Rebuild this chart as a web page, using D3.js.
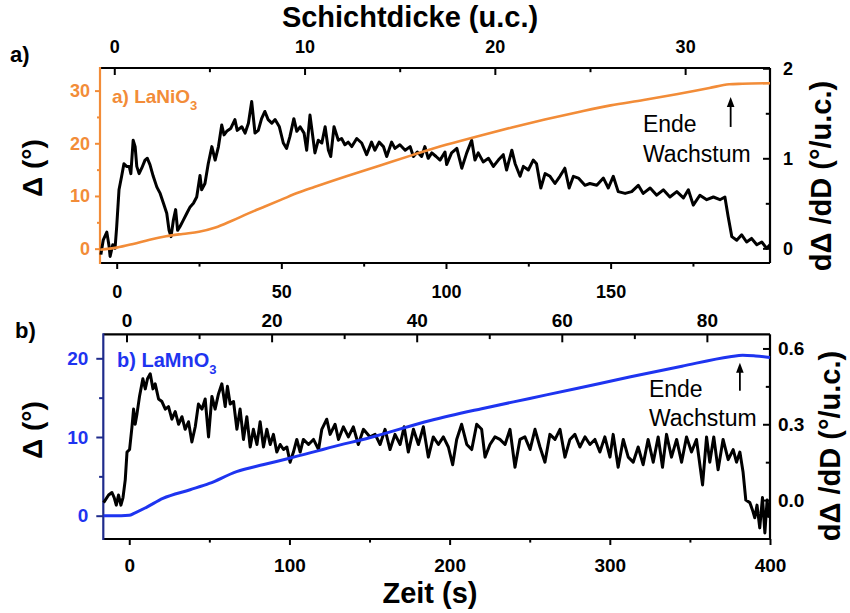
<!DOCTYPE html>
<html>
<head>
<meta charset="utf-8">
<script src="https://cdn.jsdelivr.net/npm/d3@7"></script>
<style>
body { margin: 0; background: #fff; }
</style>
</head>
<body>
<svg width="850" height="613"></svg>
<script>
// a) LaNiO3 : Delta (left axis) and d(Delta)/dD (right axis) over time
var lnoTime  = [-5, 0, 5, 10, 15, 20, 25, 30, 35, 40, 45, 50, 55, 60, 70, 80, 90, 100, 110, 120, 130, 140, 150, 160, 170, 180, 186, 190, 198.4];
var lnoDelta = [-0.2, 0.2, 0.9, 1.7, 2.35, 2.8, 3.2, 4.0, 5.3, 6.7, 8.0, 9.3, 10.6, 11.7, 13.8, 15.8, 17.8, 19.7, 21.4, 23.0, 24.5, 25.9, 27.2, 28.2, 29.3, 30.5, 31.2, 31.3, 31.4];

var lnoRateTime = [-4.8, -4.1, -3.0, -2.3, -2.0, -1.2, -0.5, 0, 0.7, 1.5, 2.2, 3.0, 3.8, 4.3, 5.0, 5.6, 6.1, 6.8, 7.6, 8.6, 9.3, 10.1, 11.1, 12.2, 13.2, 14.2, 15.2, 15.9, 16.5, 17.2, 17.9, 18.5, 19.2, 20.2, 21.3, 22.3, 23.3, 24.3, 25.3, 25.8, 26.8, 27.8, 28.9, 29.9, 30.9, 31.9, 32.6, 33.4, 34.6, 35.9, 36.6, 38.0, 39.0, 40.0, 41.0, 42.0, 43.0, 44.0, 45.0, 46.0, 47.1, 48.1, 49.4, 50.6, 51.6, 52.6, 53.8, 54.7, 55.7, 56.9, 57.7, 58.7, 59.7, 60.2, 61.2, 62.3, 63.3, 64.3, 65.0, 66.0, 67.3, 68.3, 69.3, 70.3, 71.4, 72.9, 74.4, 75.9, 77.4, 78.4, 79.7, 81.0, 82.0, 83.5, 84.5, 86.0, 87.6, 89.1, 90.1, 91.3, 92.6, 93.6, 94.6, 95.7, 97.0, 98.2, 99.7, 100.2, 101.7, 103.3, 104.8, 106.3, 107.8, 108.8, 109.8, 111.3, 112.9, 114.4, 115.9, 117.4, 118.4, 120.0, 121.0, 122.5, 123.5, 125.0, 126.5, 127.5, 128.8, 130.1, 131.6, 133.1, 134.6, 136.1, 137.4, 138.7, 140.2, 142.2, 143.7, 145.8, 147.8, 149.3, 150.8, 152.3, 154.4, 156.4, 158.4, 159.9, 162.0, 164.0, 166.0, 168.0, 170.1, 172.1, 173.6, 175.1, 177.1, 179.2, 181.2, 183.2, 184.7, 185.7, 186.8, 188.3, 189.8, 191.3, 192.8, 194.4, 195.9, 197.4, 198.4];
var lnoRate = [-0.07, 0.09, 0.18, 0.02, -0.09, 0.04, 0.00, 0.24, 0.65, 0.80, 0.94, 0.91, 0.91, 0.83, 1.20, 1.13, 0.91, 0.83, 0.89, 0.98, 1.00, 0.93, 0.80, 0.68, 0.61, 0.50, 0.39, 0.20, 0.13, 0.31, 0.43, 0.20, 0.24, 0.31, 0.39, 0.46, 0.50, 0.57, 0.81, 0.65, 0.72, 0.94, 1.13, 0.98, 1.13, 1.37, 1.26, 1.30, 1.33, 1.43, 1.31, 1.35, 1.28, 1.39, 1.63, 1.28, 1.31, 1.44, 1.52, 1.43, 1.39, 1.43, 1.35, 1.17, 1.11, 1.24, 1.44, 1.30, 1.35, 1.28, 1.09, 1.48, 1.20, 1.06, 1.20, 1.17, 1.35, 1.09, 1.02, 1.35, 1.20, 1.22, 1.15, 1.18, 1.13, 1.22, 1.17, 1.04, 1.18, 1.09, 1.18, 1.13, 1.02, 1.18, 1.11, 1.15, 1.09, 1.13, 1.02, 1.07, 1.02, 1.13, 1.00, 1.06, 1.02, 0.98, 1.07, 0.93, 1.06, 1.11, 0.89, 1.06, 1.20, 0.98, 1.06, 0.96, 1.00, 0.91, 0.98, 1.04, 0.87, 1.09, 0.94, 0.80, 0.91, 0.87, 0.98, 0.94, 0.67, 0.83, 0.80, 0.72, 0.80, 0.89, 0.67, 0.80, 0.78, 0.70, 0.72, 0.70, 0.78, 0.67, 0.80, 0.63, 0.61, 0.63, 0.70, 0.61, 0.67, 0.59, 0.65, 0.57, 0.63, 0.56, 0.65, 0.48, 0.59, 0.54, 0.57, 0.54, 0.57, 0.35, 0.13, 0.09, 0.15, 0.07, 0.11, 0.04, 0.07, 0.00, 0.04];

// b) LaMnO3
var lmoTime  = [-16, -5, 0, 3, 11, 21, 38, 50, 67, 84, 100, 117, 125, 150, 188, 220, 250, 280, 313, 345, 375, 383, 391, 400];
var lmoDelta = [0, 0, 0.05, 0.3, 1.1, 2.2, 3.3, 4.1, 5.6, 6.5, 7.3, 8.2, 8.65, 9.9, 12.1, 13.6, 14.9, 16.2, 17.65, 19.0, 20.2, 20.4, 20.3, 20.1];

var lmoRateTime = [-16.0, -12.9, -10.8, -9.4, -8.1, -6.7, -5.2, -3.9, -2.5, -1.4, 0.2, 1.7, 2.7, 3.7, 4.8, 6.4, 8.5, 10.0, 11.4, 13.1, 14.8, 16.2, 18.3, 20.4, 22.5, 24.5, 26.6, 28.7, 30.8, 32.9, 34.9, 37.0, 39.1, 41.2, 43.2, 45.4, 47.4, 49.5, 51.6, 53.6, 55.7, 57.8, 59.9, 61.3, 63.0, 65.1, 67.2, 69.2, 71.3, 73.4, 75.5, 77.5, 79.7, 81.7, 83.8, 85.9, 88.0, 90.0, 92.1, 94.2, 96.3, 98.4, 100.4, 102.5, 104.6, 106.7, 108.7, 111.9, 115.0, 118.2, 120.2, 123.3, 125.4, 128.5, 130.6, 133.7, 136.8, 139.9, 143.0, 146.2, 150.3, 153.5, 156.6, 159.7, 162.8, 165.9, 169.1, 171.6, 174.2, 177.4, 180.5, 183.6, 186.7, 189.8, 193.0, 196.1, 199.2, 201.9, 204.4, 207.5, 210.7, 213.8, 216.9, 220.0, 222.1, 225.2, 228.3, 231.4, 234.6, 237.7, 240.8, 243.9, 247.0, 250.2, 253.3, 256.4, 259.5, 262.6, 265.8, 268.9, 272.0, 275.1, 278.2, 281.3, 284.5, 287.6, 290.7, 293.8, 296.9, 300.1, 302.1, 305.2, 308.4, 311.5, 314.6, 317.7, 320.8, 323.9, 327.1, 330.2, 332.9, 335.4, 338.5, 341.7, 344.8, 347.9, 351.0, 354.1, 357.9, 360.4, 362.4, 364.9, 367.6, 370.7, 373.9, 377.0, 379.1, 381.2, 383.2, 384.9, 387.4, 389.1, 390.5, 391.9, 393.6, 395.3, 396.8, 398.2, 399.5];
var lmoRate = [-0.01, 0.02, 0.03, 0.01, -0.02, 0.02, -0.02, 0.01, 0.08, 0.19, 0.20, 0.29, 0.36, 0.30, 0.34, 0.41, 0.48, 0.44, 0.48, 0.50, 0.44, 0.46, 0.40, 0.39, 0.36, 0.37, 0.32, 0.35, 0.30, 0.33, 0.28, 0.31, 0.23, 0.29, 0.38, 0.36, 0.40, 0.25, 0.41, 0.36, 0.42, 0.46, 0.37, 0.45, 0.38, 0.39, 0.28, 0.36, 0.24, 0.33, 0.21, 0.28, 0.22, 0.31, 0.21, 0.28, 0.22, 0.26, 0.19, 0.22, 0.20, 0.21, 0.15, 0.19, 0.24, 0.19, 0.24, 0.22, 0.24, 0.20, 0.28, 0.32, 0.26, 0.30, 0.24, 0.29, 0.25, 0.29, 0.22, 0.28, 0.25, 0.26, 0.22, 0.28, 0.20, 0.26, 0.22, 0.29, 0.19, 0.28, 0.22, 0.29, 0.17, 0.25, 0.22, 0.25, 0.21, 0.14, 0.24, 0.30, 0.22, 0.20, 0.30, 0.28, 0.17, 0.22, 0.25, 0.24, 0.22, 0.28, 0.13, 0.24, 0.25, 0.20, 0.28, 0.21, 0.15, 0.26, 0.24, 0.28, 0.17, 0.24, 0.26, 0.21, 0.25, 0.22, 0.24, 0.19, 0.25, 0.17, 0.26, 0.13, 0.24, 0.17, 0.15, 0.21, 0.14, 0.24, 0.15, 0.25, 0.13, 0.26, 0.17, 0.24, 0.15, 0.25, 0.19, 0.24, 0.06, 0.25, 0.15, 0.25, 0.12, 0.24, 0.16, 0.20, 0.15, 0.19, 0.11, 0.00, -0.01, -0.04, -0.07, -0.02, -0.11, 0.01, -0.13, 0.00, -0.07];

// tick values
var timeTicksA = [0, 50, 100, 150], timeMinorA = [25, 75, 125, 175];
var ucTicksA = [0, 10, 20, 30], ucMinorA = [5, 15, 25];
var deltaTicksA = [0, 10, 20, 30], deltaMinorA = [5, 15, 25];
var rateTicksA = [0, 1, 2], rateMinorA = [0.5, 1.5];

var timeTicksB = [0, 100, 200, 300, 400], timeMinorB = [50, 150, 250, 350];
var ucTicksB = [0, 20, 40, 60, 80], ucMinorB = [10, 30, 50, 70];
var deltaTicksB = [0, 10, 20], deltaMinorB = [5, 15];
var rateTicksB = [0, 0.3, 0.6], rateMinorB = [0.15, 0.45];

var FONT = "Arial, 'Liberation Sans', Helvetica, sans-serif";
var orange = "#f28c38";
var blue = "#1e34f0";
var navy = "#1f2b8c";

var svg = d3.select("svg");

var drawAxis = function(pos, scale, at, major, minor, len, pad, fmt, color, textColor, fontSize) {
    var maker = {left: d3.axisLeft, right: d3.axisRight, top: d3.axisTop, bottom: d3.axisBottom}[pos];
    var shift = (pos == "left" || pos == "right") ? "translate(" + at + ",0)" : "translate(0," + at + ")";

    var gMinor = svg.append("g")
        .attr("transform", shift)
        .call(maker(scale).tickValues(minor).tickSize(len * 0.6).tickFormat(""));
    var gMajor = svg.append("g")
        .attr("transform", shift)
        .call(maker(scale).tickValues(major).tickSize(len).tickPadding(pad).tickFormat(fmt));

    [gMinor, gMajor].forEach(function(g) {
        g.select(".domain").remove();
        g.selectAll(".tick line").attr("stroke", color).attr("stroke-width", 2);
        g.selectAll(".tick text")
            .attr("fill", textColor)
            .attr("font-family", FONT)
            .attr("font-weight", "bold")
            .attr("font-size", fontSize);
    });
}

var drawFrame = function(x, y, leftColor) {
    var x0 = x.range()[0], x1 = x.range()[1];
    var y0 = y.range()[1], y1 = y.range()[0];
    var edges = [
        [x0, y0, x1, y0, "#000"],
        [x0, y1, x1, y1, "#000"],
        [x1, y0, x1, y1, "#000"],
        [x0, y0 - 1, x0, y1 + 1, leftColor]
    ];
    svg.selectAll(null)
        .data(edges)
        .enter()
        .append("line")
        .attr("x1", function(d) { return d[0]; })
        .attr("y1", function(d) { return d[1]; })
        .attr("x2", function(d) { return d[2]; })
        .attr("y2", function(d) { return d[3]; })
        .attr("stroke", function(d) { return d[4]; })
        .attr("stroke-width", 2.2);
}

var drawSeries = function(times, values, x, y, color, width, curve) {
    var pts = times.map(function(t, i) { return [t, values[i]]; });
    svg.append("path")
        .datum(pts)
        .attr("fill", "none")
        .attr("stroke", color)
        .attr("stroke-width", width)
        .attr("stroke-linejoin", "round")
        .attr("d", d3.line()
            .curve(curve)
            .x(function(d) { return x(d[0]); })
            .y(function(d) { return y(d[1]); }));
}

var drawArrow = function(px, pyTop, pyBottom) {
    svg.append("line")
        .attr("x1", px).attr("x2", px)
        .attr("y1", pyBottom).attr("y2", pyTop + 8)
        .attr("stroke", "#000")
        .attr("stroke-width", 1.8);
    svg.append("path")
        .attr("d", "M" + px + "," + pyTop + " L" + (px - 3.8) + "," + (pyTop + 10) + " L" + (px + 3.8) + "," + (pyTop + 10) + " Z")
        .attr("fill", "#000");
}

var addText = function(px, py, str, size, weight, color, anchor, rotate) {
    var t = svg.append("text")
        .attr("font-family", FONT)
        .attr("font-size", size)
        .attr("font-weight", weight)
        .attr("fill", color)
        .attr("text-anchor", anchor || "start")
        .text(str);
    if (rotate) {
        t.attr("transform", "translate(" + px + "," + py + ") rotate(" + rotate + ")");
    } else {
        t.attr("x", px).attr("y", py);
    }
    return t;
}

var addFormula = function(px, py, prefix, size, color) {
    var t = svg.append("text")
        .attr("x", px).attr("y", py)
        .attr("font-family", FONT)
        .attr("font-size", size)
        .attr("font-weight", "bold")
        .attr("fill", color);
    t.append("tspan").text(prefix);
    t.append("tspan").attr("dy", 7).attr("font-size", 13).text("3");
}

// ---------- panel a ----------
var xA = d3.scaleLinear().domain([-5.07, 198.4]).range([100, 770]);
var ucA = d3.scaleLinear().domain([-0.75, 34.46]).range([100, 770]);
var yA = d3.scaleLinear().domain([-2.72, 34.29]).range([263, 68]);
var rA = d3.scaleLinear().domain([-0.163, 2.003]).range([263, 68]);

drawFrame(xA, yA, orange);
drawAxis("bottom", xA, 263, timeTicksA, timeMinorA, 6, 16, d3.format("d"), "#000", "#000", 18);
drawAxis("top", ucA, 68, ucTicksA, ucMinorA, -7, 15, d3.format("d"), "#000", "#000", 18);
drawAxis("left", yA, 100, deltaTicksA, deltaMinorA, 5, 5, d3.format("d"), orange, orange, 18);
drawAxis("right", rA, 770, rateTicksA, rateMinorA, -7, 13, d3.format("d"), "#000", "#000", 18);

drawSeries(lnoRateTime, lnoRate, xA, rA, "#000", 3, d3.curveLinear);
drawSeries(lnoTime, lnoDelta, xA, yA, orange, 2.6, d3.curveMonotoneX);

addFormula(xA(-1.43), yA(27.6), "a) LaNiO", 19, orange);
addText(xA(159.8), yA(22.1), "Ende", 23, "normal", "#000");
addText(xA(159.8), yA(16.45), "Wachstum", 23, "normal", "#000");
drawArrow(xA(186.45), yA(28.8), yA(23.1));

// ---------- panel b ----------
var xB = d3.scaleLinear().domain([-16.2, 400]).range([103.3, 770]);
var ucB = d3.scaleLinear().domain([-3.2, 88.7]).range([103.3, 770]);
var yB = d3.scaleLinear().domain([-2.96, 23.05]).range([539, 334.3]);
var rB = d3.scaleLinear().domain([-0.154, 0.656]).range([539, 334.3]);

drawFrame(xB, yB, navy);
drawAxis("bottom", xB, 539, timeTicksB, timeMinorB, 6, 13.5, d3.format("d"), "#000", "#000", 19);
drawAxis("top", ucB, 334.3, ucTicksB, ucMinorB, -8, 7, d3.format("d"), "#000", "#000", 19);
drawAxis("left", yB, 103.3, deltaTicksB, deltaMinorB, 7, 8, d3.format("d"), navy, blue, 19);
drawAxis("right", rB, 770, rateTicksB, rateMinorB, -7, 8, d3.format(".1f"), "#000", "#000", 19);

drawSeries(lmoRateTime, lmoRate, xB, rB, "#000", 3, d3.curveLinear);
drawSeries(lmoTime, lmoDelta, xB, yB, blue, 3, d3.curveMonotoneX);

addFormula(xB(-7.65), yB(18.9), "b) LaMnO", 20, blue);
addText(xB(324.4), yB(15.08), "Ende", 23, "normal", "#000");
addText(xB(324.4), yB(11.4), "Wachstum", 23, "normal", "#000");
drawArrow(xB(381.2), yB(19.44), yB(15.88));

// ---------- titles ----------
addText(410, 27, "Schichtdicke (u.c.)", 29, "bold", "#000", "middle");
addText(430, 603, "Zeit (s)", 29, "bold", "#000", "middle");
addText(10, 62, "a)", 22, "bold", "#000");
addText(15, 338, "b)", 22, "bold", "#000");
addText(42, 168, "Δ (°)", 28, "bold", "#000", "middle", -90);
addText(42, 430, "Δ (°)", 28, "bold", "#000", "middle", -90);
addText(831, 176, "dΔ /dD (°/u.c.)", 29, "bold", "#000", "middle", -90);
addText(840, 446, "dΔ /dD (°/u.c.)", 29, "bold", "#000", "middle", -90);
</script>
</body>
</html>
